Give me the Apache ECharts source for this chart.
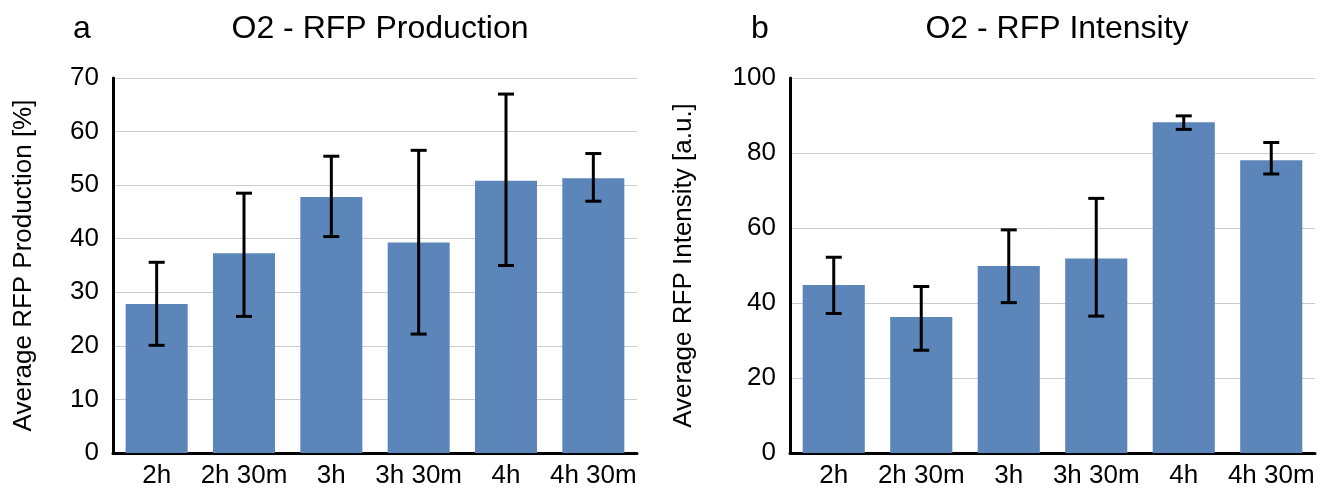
<!DOCTYPE html>
<html>
<head>
<meta charset="utf-8">
<script src="https://cdn.jsdelivr.net/npm/echarts@6/dist/echarts.min.js"></script>
<style>
  html, body { margin: 0; padding: 0; background: #ffffff; }
  #chart { width: 1325px; height: 490px; }
</style>
</head>
<body>
<div id="chart"></div>
<script>
  const categories = ['2h', '2h 30m', '3h', '3h 30m', '4h', '4h 30m'];

  // panel a - production [%]
  const productionMean = [27.8, 37.3, 47.8, 39.3, 50.8, 51.3];
  const productionLow = [20.1, 25.5, 40.4, 22.2, 35.0, 47.0];
  const productionHigh = [35.6, 48.5, 55.4, 56.5, 67.0, 55.9];

  // panel b - intensity [a.u.]
  const intensityMean = [44.8, 36.3, 49.9, 51.9, 88.2, 78.1];
  const intensityLow = [37.2, 27.4, 40.1, 36.5, 86.3, 74.4];
  const intensityHigh = [52.2, 44.4, 59.5, 67.9, 89.9, 82.8];

  const barColor = '#5c85b9';
  const fontFamily = '"Liberation Sans", Arial, sans-serif';

  const chart = echarts.init(document.getElementById('chart'));

  // whiskers, placed through the axis scales
  function errorBars(params, api) {
    const i = api.value(0);
    const lo = api.coord([i, api.value(1)]);
    const hi = api.coord([i, api.value(2)]);
    const cap = 8;
    const style = { stroke: '#000', lineWidth: 3 };
    return {
      type: 'group',
      children: [
        { type: 'line', shape: { x1: hi[0], y1: hi[1], x2: lo[0], y2: lo[1] }, style: style },
        { type: 'line', shape: { x1: hi[0] - cap, y1: hi[1], x2: hi[0] + cap, y2: hi[1] }, style: style },
        { type: 'line', shape: { x1: lo[0] - cap, y1: lo[1], x2: lo[0] + cap, y2: lo[1] }, style: style }
      ]
    };
  }

  function xAxis(gridIndex) {
    return {
      type: 'category',
      gridIndex: gridIndex,
      data: categories,
      axisLine: { lineStyle: { color: '#000', width: 3 } },
      axisTick: { show: false },
      axisLabel: { color: '#000', fontSize: 26, fontFamily: fontFamily, margin: 10, interval: 0, hideOverlap: false }
    };
  }

  function yAxis(gridIndex, max, interval, name, nameGap) {
    return {
      type: 'value',
      gridIndex: gridIndex,
      min: 0,
      max: max,
      interval: interval,
      name: name,
      nameLocation: 'middle',
      nameGap: nameGap,
      nameTextStyle: { color: '#000', fontSize: 26, fontFamily: fontFamily },
      axisLine: { show: true, lineStyle: { color: '#000', width: 3 } },
      axisTick: { show: false },
      axisLabel: { color: '#000', fontSize: 26, fontFamily: fontFamily, margin: 14 },
      splitLine: { lineStyle: { color: '#cccccc', width: 1 } }
    };
  }

  const titleStyle = { fontSize: 32, fontWeight: 'normal', color: '#000', fontFamily: fontFamily };

  const option = {
    animation: false,
    backgroundColor: '#ffffff',
    title: [
      { text: 'a', left: 68, top: 8, textStyle: titleStyle },
      { text: 'O2 - RFP Production', left: 375, top: 8, textAlign: 'center', textStyle: titleStyle },
      { text: 'b', left: 746, top: 8, textStyle: titleStyle },
      { text: 'O2 - RFP Intensity', left: 1052, top: 8, textAlign: 'center', textStyle: titleStyle }
    ],
    grid: [
      { left: 113, right: 688, top: 78, bottom: 37 },
      { left: 790, right: 10, top: 78, bottom: 37 }
    ],
    xAxis: [xAxis(0), xAxis(1)],
    yAxis: [
      yAxis(0, 70, 10, 'Average RFP Production [%]', 76),
      yAxis(1, 100, 20, 'Average RFP Intensity [a.u.]', 93)
    ],
    series: [
      {
        type: 'bar', xAxisIndex: 0, yAxisIndex: 0,
        data: productionMean, barCategoryGap: '29%',
        itemStyle: { color: barColor }
      },
      {
        type: 'custom', xAxisIndex: 0, yAxisIndex: 0,
        renderItem: errorBars, z: 10,
        data: categories.map((c, i) => [i, productionLow[i], productionHigh[i]])
      },
      {
        type: 'bar', xAxisIndex: 1, yAxisIndex: 1,
        data: intensityMean, barCategoryGap: '29%',
        itemStyle: { color: barColor }
      },
      {
        type: 'custom', xAxisIndex: 1, yAxisIndex: 1,
        renderItem: errorBars, z: 10,
        data: categories.map((c, i) => [i, intensityLow[i], intensityHigh[i]])
      }
    ]
  };

  chart.setOption(option);
</script>
</body>
</html>
